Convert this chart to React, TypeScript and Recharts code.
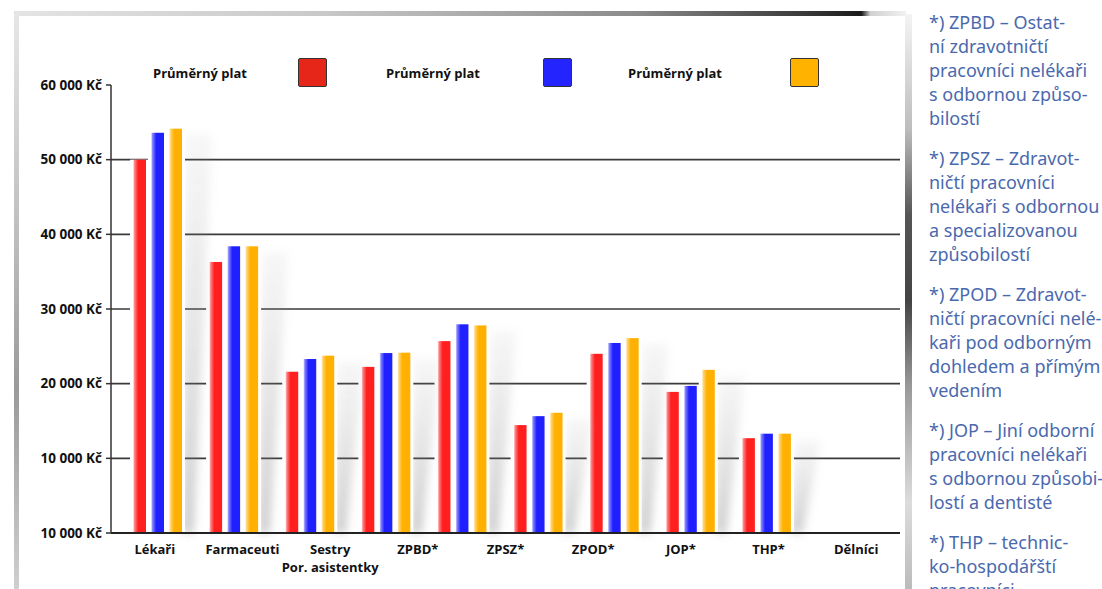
import { Bar, BarChart, CartesianGrid, Legend, XAxis, YAxis } from "recharts";

const categories = [
  "Lékaři",
  "Farmaceuti",
  "Sestry\nPor. asistentky",
  "ZPBD*",
  "ZPSZ*",
  "ZPOD*",
  "JOP*",
  "THP*",
  "Dělníci",
];
const redValues = [50000, 36300, 21600, 22250, 25700, 14450, 24000, 18900, 12700];
const blueValues = [53600, 38400, 23300, 24100, 27950, 15650, 25450, 19700, 13300];
const orangeValues = [54150, 38400, 23750, 24150, 27800, 16100, 26100, 21850, 13300];
const seriesNames = ["Průměrný plat", "Průměrný plat", "Průměrný plat"];
const seriesColors = ["#ff1f1f", "#2020ff", "#ffb000"];
const legendColors = ["#e52619", "#2424ff", "#ffb300"];

const yTicks = [0, 10000, 20000, 30000, 40000, 50000, 60000];
const yTickLabels = ["10 000 Kč", "10 000 Kč", "20 000 Kč", "30 000 Kč", "40 000 Kč", "50 000 Kč", "60 000 Kč"];
const gridValues = [10000, 20000, 30000, 40000, 50000];

const notes = [
  ["*) ZPBD – Ostat-", "ní zdravotničtí", "pracovníci nelékaři", "s odbornou způso-", "bilostí"],
  ["*) ZPSZ – Zdravot-", "ničtí pracovníci", "nelékaři s odbornou", "a specializovanou", "způsobilostí"],
  ["*) ZPOD – Zdravot-", "ničtí pracovníci nelé-", "kaři pod odborným", "dohledem a přímým", "vedením"],
  ["*) JOP – Jiní odborní", "pracovníci nelékaři", "s odbornou způsobi-", "lostí a dentisté"],
  ["*) THP – technic-", "ko-hospodářští", "pracovníci"],
];

const data = categories.map((name, i) => ({
  name,
  red: redValues[i],
  blue: blueValues[i],
  orange: orangeValues[i],
}));

const FONT = "'Open Sans', 'Noto Sans', sans-serif";
// legend item spacing (text block width, item width)
const legendTextWidths = [145, 157, 162];
const legendItemWidths = [233, 242, 200];

function makeShape(gradId: string, withShadow: boolean) {
  return (props: any) => {
    const { x, y, width, height } = props;
    if (!height || height <= 0) return <g />;
    const r = x + width;
    const b = y + height;
    return (
      <g>
        {withShadow && (
          <polygon
            points={`${r},${b} ${r + 4},${y + 6} ${r + 30},${y + 6} ${r + 12},${b}`}
            fill="url(#shadowGrad)"
            filter="url(#soft)"
          />
        )}
        <rect x={x - 3} y={y} width={width + 6} height={height} fill="#fff" />
        <rect x={x} y={y} width={width} height={height} fill={`url(#${gradId})`} />
      </g>
    );
  };
}

function CategoryTick({ x, y, payload }: any) {
  const lines = String(payload.value).split("\n");
  return (
    <text x={x} y={y} textAnchor="middle" fontSize={13} fontWeight={700} fill="#111" fontFamily={FONT}>
      {lines.map((line, i) => (
        <tspan key={i} x={x} dy={i === 0 ? 13 : 18}>
          {line}
        </tspan>
      ))}
    </text>
  );
}

function LegendContent({ payload }: any) {
  return (
    <div style={{ display: "flex", fontFamily: FONT }}>
      {(payload || []).map((entry: any, i: number) => (
        <div key={i} style={{ display: "flex", alignItems: "center", width: legendItemWidths[i] }}>
          <span style={{ fontSize: 13, fontWeight: 700, color: "#111", width: legendTextWidths[i] }}>
            {entry.value}
          </span>
          <span
            style={{
              display: "inline-block",
              width: 27,
              height: 27,
              background: entry.color,
              border: "1.5px solid #333",
              borderRadius: 2,
            }}
          />
        </div>
      ))}
    </div>
  );
}

export default function App() {
  return (
    <div
      style={{
        position: "absolute",
        left: 0,
        top: 0,
        width: 1102,
        height: 589,
        overflow: "hidden",
        background: "#fff",
      }}
    >
      {/* frame */}
      <div
        style={{
          position: "absolute",
          left: 14,
          top: 11,
          width: 892,
          height: 5,
          background:
            "linear-gradient(to right, #e4e4e4 0%, #c8c8c8 35%, #8a8a8a 70%, #333 90%, #1a1a1a 95%, #d0d0d0 96%, #f2f2f2 100%)",
        }}
      />
      <div
        style={{
          position: "absolute",
          left: 14,
          top: 14,
          width: 5,
          height: 575,
          background: "linear-gradient(to bottom, #e6e6e6 0%, #bcbcbc 40%, #9a9a9a 65%, #cfcfcf 100%)",
        }}
      />
      <div
        style={{
          position: "absolute",
          left: 905,
          top: 14,
          width: 7,
          height: 575,
          background:
            "linear-gradient(to bottom, #f4f4f4 0%, #bdbdbd 20%, #555 35%, #444 50%, #9a9a9a 65%, #dcdcdc 85%, #bbb 100%)",
        }}
      />

      <div style={{ position: "absolute", left: 0, top: 0 }}>
        <BarChart
          width={905}
          height={589}
          data={data}
          margin={{ top: 85, right: 5, bottom: 0, left: 0 }}
          barSize={13}
          barGap={5}
        >
          <defs>
            {seriesColors.map((c, i) => (
              <linearGradient key={i} id={`barGrad${i}`} x1="0" y1="0" x2="1" y2="0">
                <stop offset="0%" stopColor="#ffffff" stopOpacity={0.6} />
                <stop offset="12%" stopColor={c} stopOpacity={0.55} />
                <stop offset="40%" stopColor={c} />
                <stop offset="100%" stopColor={c} />
              </linearGradient>
            ))}
            <linearGradient id="shadowGrad" x1="0" y1="0" x2="0" y2="1">
              <stop offset="0%" stopColor="#999" stopOpacity={0.08} />
              <stop offset="100%" stopColor="#777" stopOpacity={0.35} />
            </linearGradient>
            <filter id="soft" x="-50%" y="-10%" width="200%" height="120%">
              <feGaussianBlur stdDeviation="4" />
            </filter>
          </defs>
          <CartesianGrid vertical={false} horizontalValues={gridValues} stroke="#3a3a3a" strokeWidth={1.6} />
          <XAxis xAxisId="bars" dataKey="name" hide height={0} padding={{ left: 8, right: 96 }} />
          <XAxis
            xAxisId="labels"
            dataKey="name"
            height={56}
            interval={0}
            tickLine={false}
            axisLine={{ stroke: "#222", strokeWidth: 2 }}
            tick={<CategoryTick />}
          />
          <YAxis
            width={111}
            domain={[0, 60000]}
            ticks={yTicks}
            interval={0}
            tickSize={5}
            tickMargin={4}
            tickLine={{ stroke: "#333", strokeWidth: 1.5 }}
            axisLine={{ stroke: "#333", strokeWidth: 1.5 }}
            tickFormatter={(v: number) => yTickLabels[yTicks.indexOf(v)]}
            tick={{ fontSize: 13.5, fontWeight: 700, fill: "#111", fontFamily: FONT }}
          />
          <Legend
            verticalAlign="middle"
            layout="horizontal"
            wrapperStyle={{ top: 58, left: 153, width: 720 }}
            content={<LegendContent />}
          />
          <Bar
            xAxisId="bars"
            dataKey="red"
            name={seriesNames[0]}
            fill={legendColors[0]}
            shape={makeShape("barGrad0", false)}
            isAnimationActive={false}
          />
          <Bar
            xAxisId="bars"
            dataKey="blue"
            name={seriesNames[1]}
            fill={legendColors[1]}
            shape={makeShape("barGrad1", false)}
            isAnimationActive={false}
          />
          <Bar
            xAxisId="bars"
            dataKey="orange"
            name={seriesNames[2]}
            fill={legendColors[2]}
            shape={makeShape("barGrad2", true)}
            isAnimationActive={false}
          />
        </BarChart>
      </div>

      <div
        style={{
          position: "absolute",
          left: 929,
          top: 10,
          width: 200,
          fontFamily: "'Noto Sans', sans-serif",
          fontSize: 18,
          lineHeight: "24px",
          color: "#4a69ad",
          whiteSpace: "nowrap",
        }}
      >
        {notes.map((para, i) => (
          <div key={i} style={{ marginBottom: 16 }}>
            {para.map((line, j) => (
              <div key={j}>{line}</div>
            ))}
          </div>
        ))}
      </div>
    </div>
  );
}
